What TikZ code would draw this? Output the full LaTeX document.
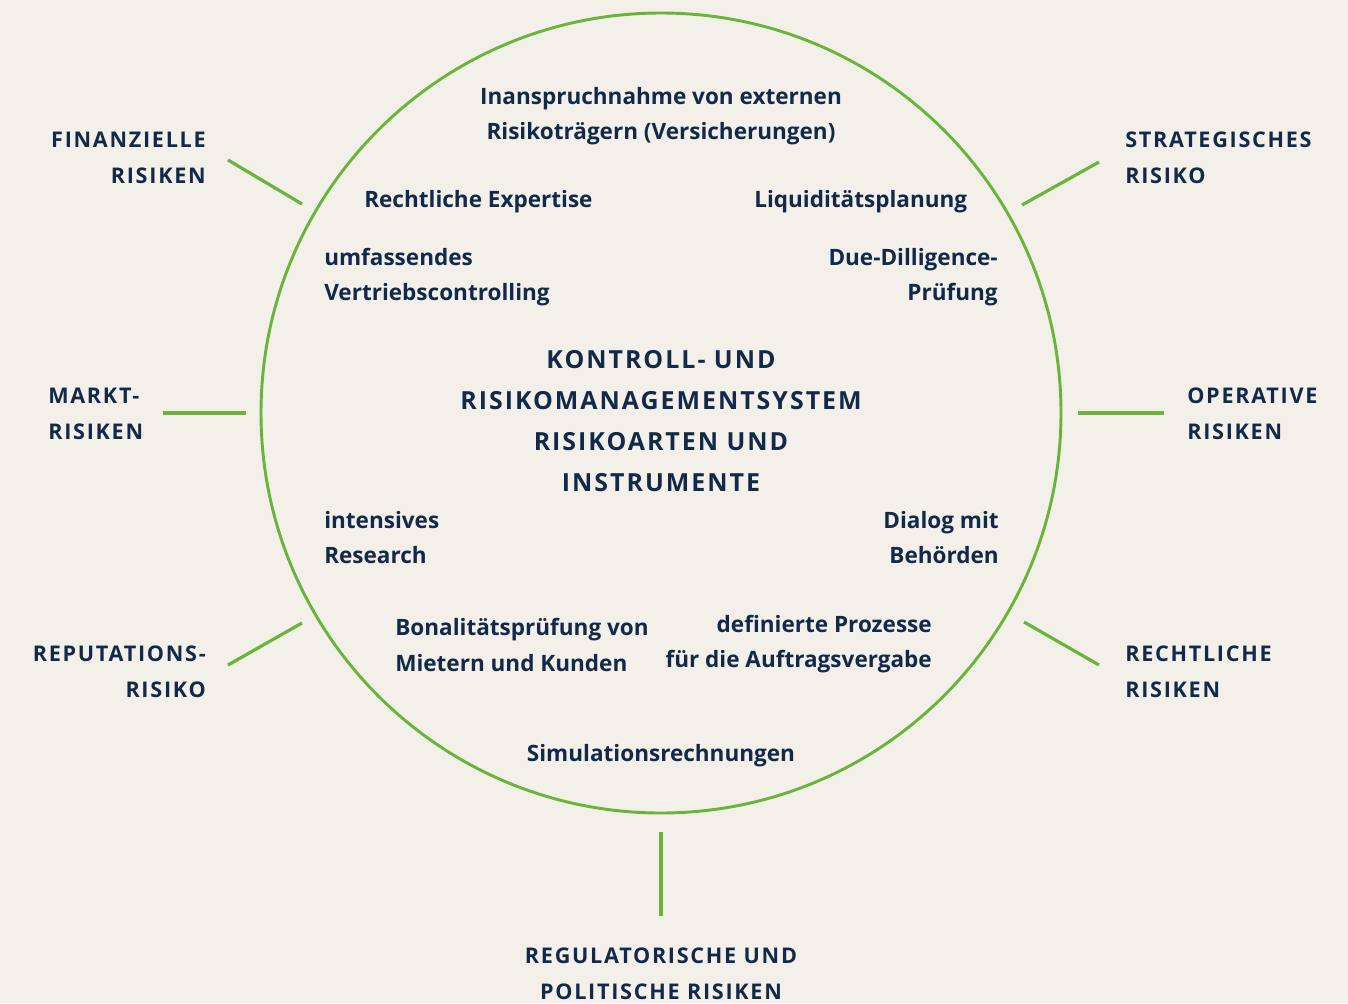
\documentclass[tikz,border=0pt]{standalone}
\usepackage{fontspec}
\setmainfont{Open Sans}
\newfontfamily\capsfont{Open Sans}[LetterSpace=8]
\definecolor{navy}{HTML}{12294A}
\definecolor{leaf}{HTML}{6AB43C}
\definecolor{paper}{HTML}{F3F0EA}
\begin{document}
\begin{tikzpicture}[x=0.75pt,y=-0.75pt,
  spoke/.style={draw=leaf,line width=2.4pt},
  risk/.style={text=navy,inner sep=0pt,font=\capsfont\bfseries\fontsize{16.2}{27}\selectfont},
  tool/.style={text=navy,inner sep=0pt,font=\bfseries\fontsize{16.9}{26.3}\selectfont},
  titlebox/.style={text=navy,inner sep=0pt,align=center,font=\capsfont\bfseries\fontsize{18.7}{30.8}\selectfont}]
\fill[paper] (0,0) rectangle (1348,1003);
\useasboundingbox (0,0) rectangle (1348,1003);
\node[draw=leaf,line width=2.2pt,circle,minimum size=600pt,inner sep=0pt] (ring) at (661,413) {};
% spokes
\coordinate (f1) at (228,160); \coordinate (f2) at (302,204);
\coordinate (s1) at (1022,205); \coordinate (s2) at (1099,162);
\coordinate (m1) at (163,413); \coordinate (m2) at (246,413);
\coordinate (o1) at (1078,413); \coordinate (o2) at (1164,413);
\coordinate (r1) at (228,665); \coordinate (r2) at (302,623);
\coordinate (l1) at (1024,622); \coordinate (l2) at (1099,665);
\coordinate (b1) at (661,832); \coordinate (b2) at (661,916);
\draw[spoke] (f1) -- (f2);
\draw[spoke] (s1) -- (s2);
\draw[spoke] (m1) -- (m2);
\draw[spoke] (o1) -- (o2);
\draw[spoke] (r1) -- (r2);
\draw[spoke] (l1) -- (l2);
\draw[spoke] (b1) -- (b2);
% outer labels
\node[risk,align=right,anchor=east] (fin) at (206,158) {FINANZIELLE\\RISIKEN};
\node[risk,align=left,anchor=west] (str) at (1125,158) {STRATEGISCHES\\RISIKO};
\node[risk,align=left,anchor=west] (mar) at (48,414) {MARKT-\\RISIKEN};
\node[risk,align=left,anchor=west] (ope) at (1187,414) {OPERATIVE\\RISIKEN};
\node[risk,align=right,anchor=east] (rep) at (206,672) {REPUTATIONS-\\RISIKO};
\node[risk,align=left,anchor=west] (rec) at (1125,672) {RECHTLICHE\\RISIKEN};
\node[risk,align=center] (reg) at (661,974) {REGULATORISCHE UND\\POLITISCHE RISIKEN};
% title
\node[titlebox] (title) at (661,421) {KONTROLL- UND\\RISIKOMANAGEMENTSYSTEM\\RISIKOARTEN UND\\INSTRUMENTE};
% instruments
\node[tool,align=center] (ins) at (661,116) {Inanspruchnahme von externen\\Risikoträgern (Versicherungen)};
\node[tool,anchor=west] (rex) at (364,202) {Rechtliche Expertise};
\node[tool,anchor=west] (liq) at (754,202) {Liquiditätsplanung};
\node[tool,align=left,anchor=west] (umf) at (324,277) {umfassendes\\Vertriebscontrolling};
\node[tool,align=right,anchor=east] (due) at (998,277) {Due-Dilligence-\\Prüfung};
\node[tool,align=left,anchor=west] (int) at (324,538) {intensives\\Research};
\node[tool,align=right,anchor=east] (dia) at (999,538) {Dialog mit\\Behörden};
\node[tool,align=left,anchor=west] (bon) at (395,645) {Bonalitätsprüfung von\\Mietern und Kunden};
\node[tool,align=right,anchor=east] (def) at (932,644) {definierte Prozesse\\für die Auftragsvergabe};
\node[tool] (sim) at (661,756) {Simulationsrechnungen};
\end{tikzpicture}
\end{document}
